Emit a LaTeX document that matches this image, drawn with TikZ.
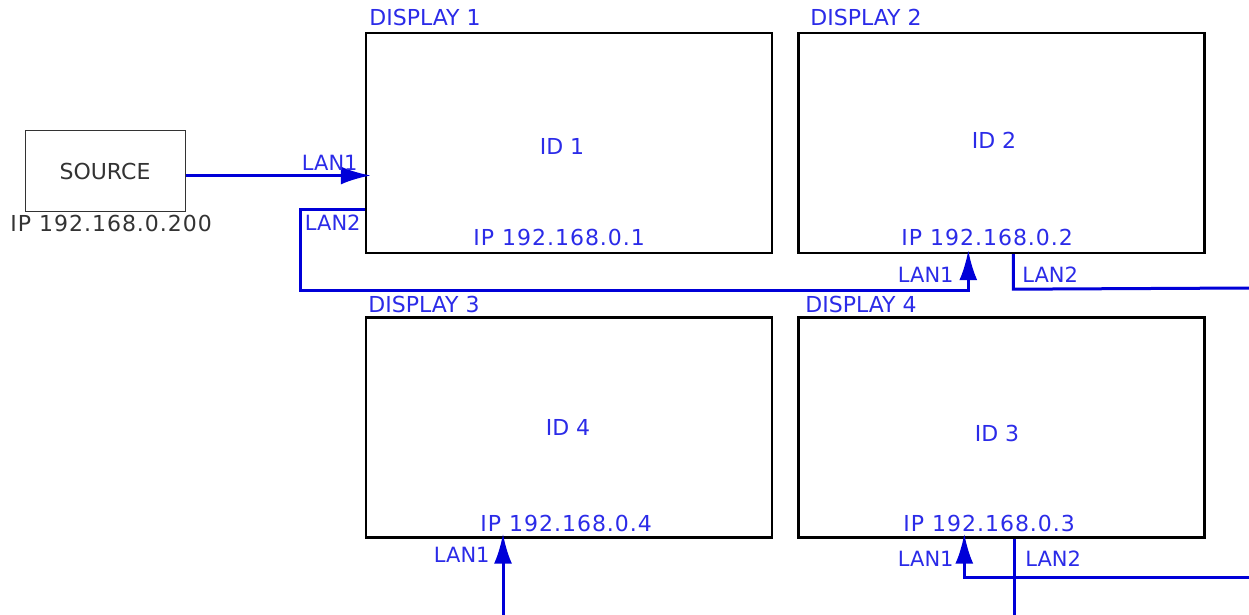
\documentclass[tikz,border=0pt]{standalone}
\usepackage{fontspec}
\setmainfont{DejaVu Sans}
\newfontfamily\ipfont[LetterSpace=4.5]{DejaVu Sans}
\usetikzlibrary{arrows.meta,calc}
\definecolor{cadblue}{HTML}{0000D8}
\definecolor{txtblue}{HTML}{2B2BE8}
\definecolor{srcgray}{HTML}{333333}
\tikzset{
  disp/.style={draw=black, line width=1.2pt, minimum width=203pt, minimum height=110pt, inner sep=0pt},
  srcbox/.style={draw=srcgray, line width=.5pt, minimum width=80pt, minimum height=40.5pt, inner sep=0pt, font=\fontsize{11}{13}\selectfont, text=srcgray},
  lbl/.style={font=\fontsize{11}{13}\selectfont, text=txtblue, inner sep=0pt},
  lanlbl/.style={lbl, font=\fontsize{10.5}{12}\selectfont},
  iplbl/.style={lbl, font=\fontsize{11}{13}\selectfont\ipfont},
  wire/.style={draw=cadblue, line width=1.5pt},
  arw/.style={wire, -{Latex[length=15pt,width=9pt]}},
}
\begin{document}
\begin{tikzpicture}[x=0.5pt,y=-0.5pt]
  \useasboundingbox (0,0) rectangle (1249,615);
  % displays
  \foreach \n/\cx/\cy/\tx/\ty/\ix/\iy/\id/\px/\py in {
      1/569/143/369/26/562/146/1/473/246,
      2/1001.5/143/810/26/994/140/2/901/245,
      3/569/427.5/368/313/568/427/4/480/531,
      4/1001.5/427.5/805/313/997/433/3/903/531}{
    \node[disp] (d\n) at (\cx,\cy) {};
    \node[lbl, anchor=base west] (d\n-title) at (\tx,\ty) {DISPLAY \n};
    \node[lbl] (d\n-id) at (\ix,\iy) {ID \id};
    \node[iplbl, anchor=base west] (d\n-ip) at (\px,\py) {IP 192.168.0.\id};
  }
  % source
  \node[srcbox] (src) at (105,171.5) {SOURCE};
  \node[iplbl, text=srcgray, anchor=base west] (src-ip) at (10,232) {IP 192.168.0.200};
  % ends of the cables
  \coordinate (s1) at ($(src.east)+(0,4)$);
  \coordinate (p2) at ($(d2.south west)+(171,0)$);
  \coordinate (q2) at ($(d2.south west)+(216,0)$);
  \coordinate (e2) at (1249,288);
  \coordinate (e3) at (503,615);
  \coordinate (p4) at ($(d4.south west)+(167,0)$);
  \coordinate (e4) at (1249,577);
  \coordinate (q4) at (1014,615);
  % cables
  \draw[arw, shorten >=-3pt] (s1) -- (s1 -| d1.west);
  \draw[arw, shorten >=-2pt] ($(d1.south west)+(0,-45)$) -- ++(-64,0) |- ($(p2)+(0,36)$) -- (p2);
  \draw[wire] (q2) -- ++(0,35) -- (e2);
  \draw[arw, shorten >=-2.5pt] (e3) -- (e3 |- d3.south);
  \draw[arw, shorten >=-2.5pt] (e4) -| (p4);
  \draw[wire] (q4 |- d4.south) -- (q4);
  % port labels
  \node[lanlbl, anchor=base east] (l-src) at (358,170) {LAN1};
  \node[lanlbl, anchor=base east] (l-d1) at (361,230) {LAN2};
  \node[lanlbl, anchor=base east] (l-d2a) at (954,282) {LAN1};
  \node[lanlbl, anchor=base west] (l-d2b) at (1022,282) {LAN2};
  \node[lanlbl, anchor=base east] (l-d3) at (490,562) {LAN1};
  \node[lanlbl, anchor=base east] (l-d4a) at (954,566) {LAN1};
  \node[lanlbl, anchor=base west] (l-d4b) at (1025,566) {LAN2};
\end{tikzpicture}
\end{document}
